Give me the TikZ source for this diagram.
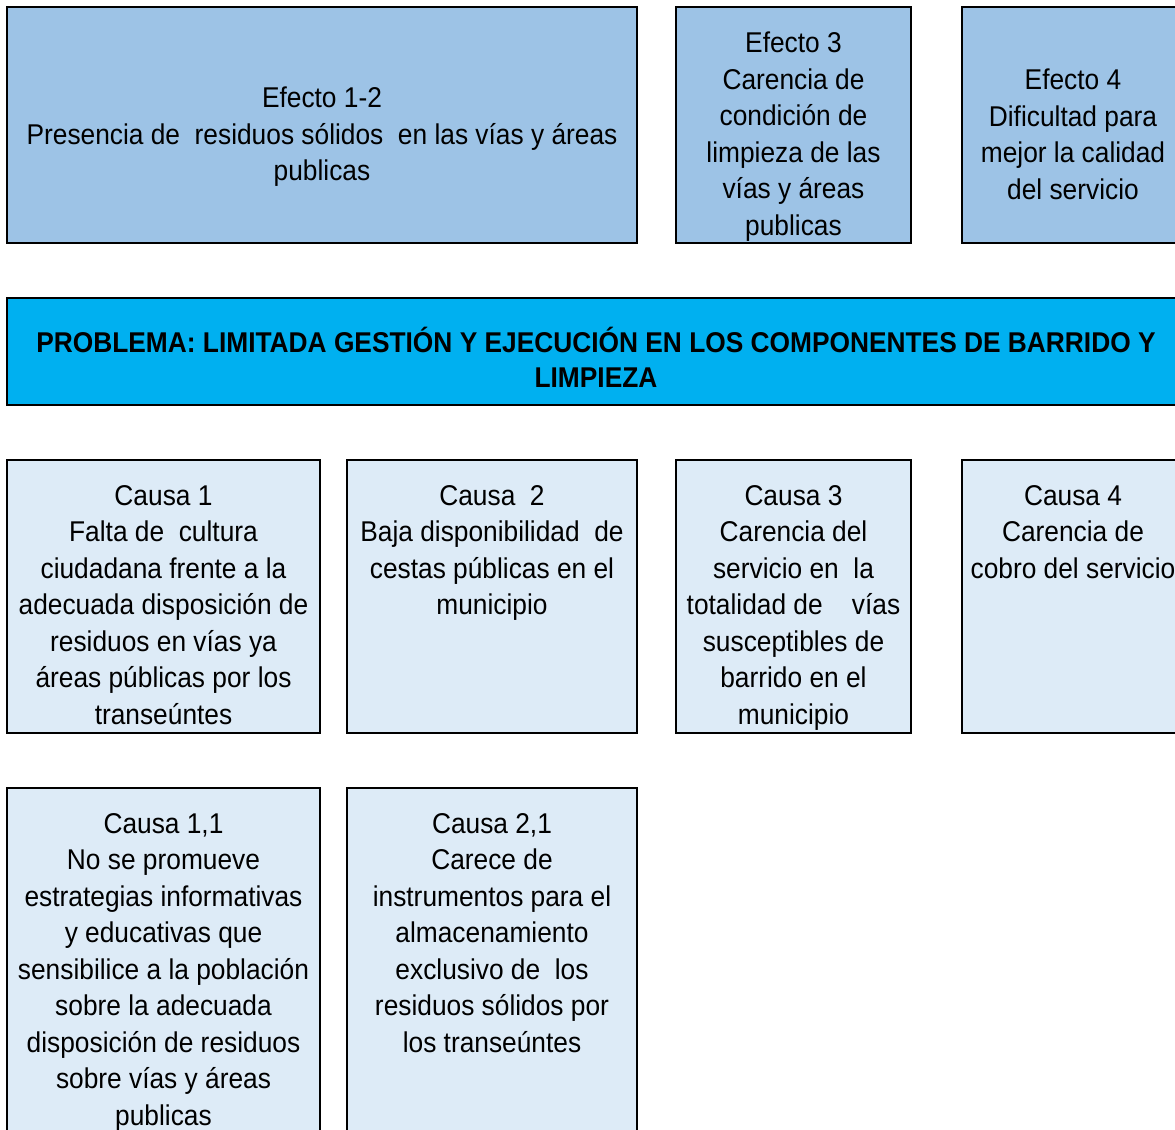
\documentclass[tikz,border=0pt]{standalone}
\usepackage{fontspec}
\setmainfont[FakeStretch=0.92]{Liberation Sans}
\usetikzlibrary{positioning}

\definecolor{efectoazul}{HTML}{9DC3E6}
\definecolor{problemaazul}{HTML}{00B0F0}
\definecolor{causaazul}{HTML}{DDEBF7}

\begin{document}
\begin{tikzpicture}[
    x=0.5pt, y=-0.5pt,
    caja/.style={draw, line width=1pt, rectangle, inner sep=0pt, outer sep=0pt},
    efecto/.style={caja, fill=efectoazul, minimum height=118pt},
    problema/.style={caja, fill=problemaazul, minimum width=589pt, minimum height=53.5pt},
    causa/.style={caja, fill=causaazul, minimum height=136.5pt},
    texto/.style={anchor=north, align=center, inner sep=0pt, font=\fontsize{14.3}{18.25}\selectfont},
    textob/.style={texto, font=\fontsize{14.3}{17.5}\selectfont\bfseries}
]
\useasboundingbox (0,0) rectangle (1175,1130);
\clip (0,0) rectangle (1175,1130);

% Efectos
\node[efecto, minimum width=315pt, anchor=north west] (e12) at (7,7) {};
\node[efecto, minimum width=117.5pt, right=19.5pt of e12] (e3) {};
\node[efecto, minimum width=111pt, right=25.5pt of e3] (e4) {};

% Problema central
\node[problema, below=27.5pt of e12.south west, anchor=north west] (prob) {};

% Causas
\node[causa, minimum width=156.5pt, below=27.5pt of prob.south west, anchor=north west] (c1) {};
\node[causa, minimum width=145pt, right=13.5pt of c1] (c2) {};
\node[causa, minimum width=117.5pt, right=19.5pt of c2] (c3) {};
\node[causa, minimum width=111pt, right=25.5pt of c3] (c4) {};

% Causas secundarias
\node[causa, minimum width=156.5pt, minimum height=190pt, below=27.5pt of c1.south west, anchor=north west] (c11) {};
\node[causa, minimum width=145pt, minimum height=190pt, below=27.5pt of c2.south west, anchor=north west] (c21) {};

% Textos
\node[texto] (te12) at ([yshift=-39.85pt]e12.north) {Efecto 1-2\\Presencia de\ \ residuos sólidos\ \ en las vías y áreas\\publicas};
\node[texto] (te3) at ([yshift=-12.35pt]e3.north) {Efecto 3\\Carencia de\\condición de\\limpieza de las\\vías y áreas\\publicas};
\node[texto] (te4) at ([yshift=-30.85pt]e4.north) {Efecto 4\\Dificultad para\\mejor la calidad\\del servicio};
\node[textob] (tprob) at ([yshift=-14.5pt]prob.north) {PROBLEMA: LIMITADA GESTIÓN Y EJECUCIÓN EN LOS COMPONENTES DE BARRIDO Y\\LIMPIEZA};
\node[texto] (tc1) at ([yshift=-12.5pt]c1.north) {Causa 1\\Falta de\ \ cultura\\ciudadana frente a la\\adecuada disposición de\\residuos en vías ya\\áreas públicas por los\\transeúntes};
\node[texto] (tc2) at ([yshift=-12.5pt]c2.north) {Causa\ \ 2\\Baja disponibilidad\ \ de\\cestas públicas en el\\municipio};
\node[texto] (tc3) at ([yshift=-12.5pt]c3.north) {Causa 3\\Carencia del\\servicio en\ \ la\\totalidad de\ \ \ \ vías\\susceptibles de\\barrido en el\\municipio};
\node[texto] (tc4) at ([yshift=-12.5pt]c4.north) {Causa 4\\Carencia de\\cobro del servicio};
\node[texto] (tc11) at ([yshift=-12.5pt]c11.north) {Causa 1,1\\No se promueve\\estrategias informativas\\y educativas que\\sensibilice a la población\\sobre la adecuada\\disposición de residuos\\sobre vías y áreas\\publicas};
\node[texto] (tc21) at ([yshift=-12.5pt]c21.north) {Causa 2,1\\Carece de\\instrumentos para el\\almacenamiento\\exclusivo de\ \ los\\residuos sólidos por\\los transeúntes};

\end{tikzpicture}
\end{document}
